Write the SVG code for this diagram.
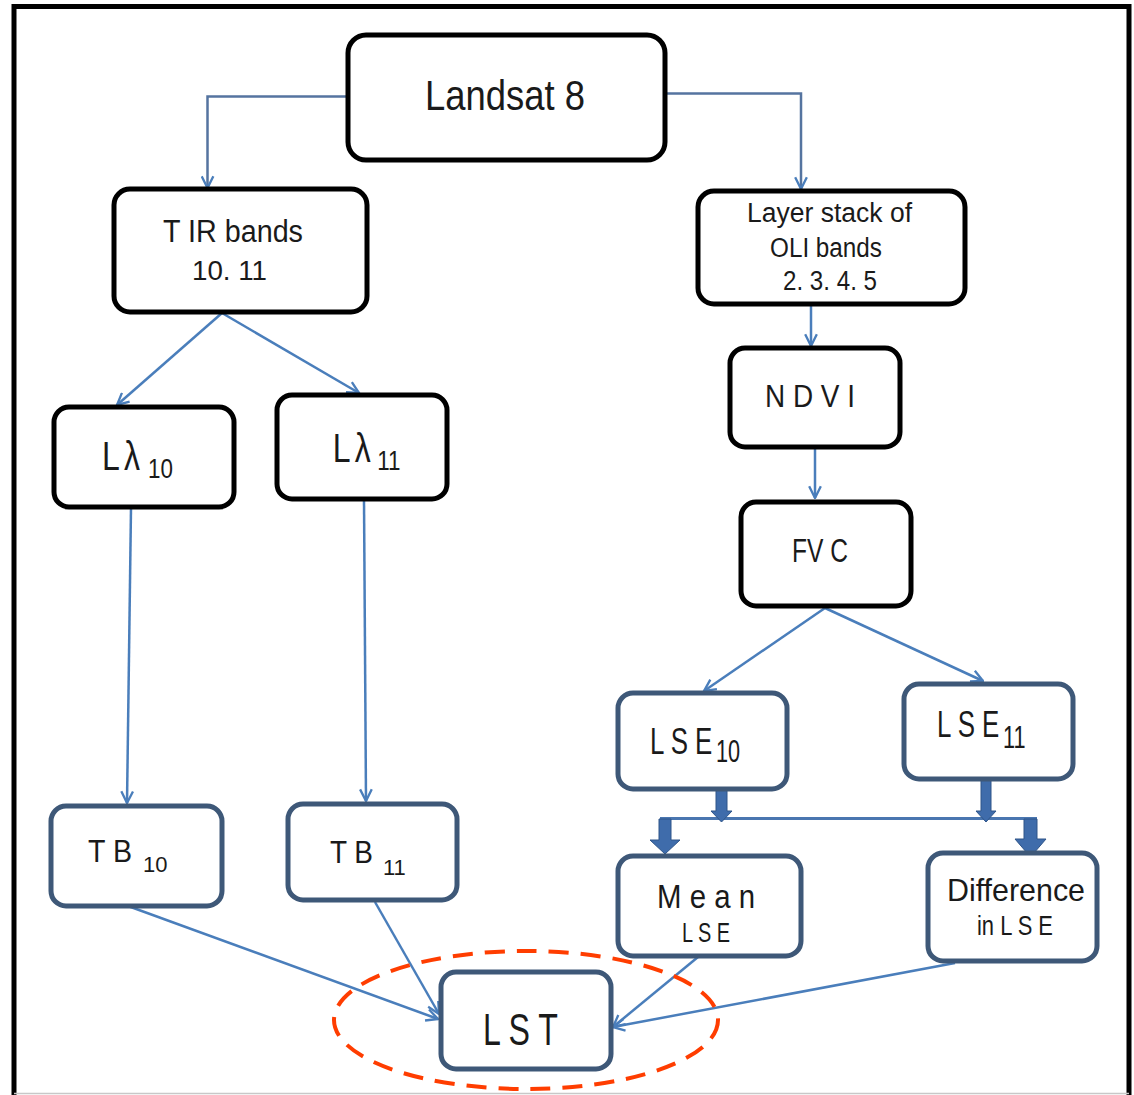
<svg xmlns="http://www.w3.org/2000/svg" width="1134" height="1095" viewBox="0 0 1134 1095">
<defs>
<style>
.nb{fill:#ffffff;stroke:#000000;stroke-width:5}
.ns{fill:#ffffff;stroke:#3e5878;stroke-width:5}
.t{font-family:"Liberation Sans Narrow","Liberation Sans",Arial,sans-serif;fill:#1a1a1a}
.c{fill:none;stroke:#4a7ebb;stroke-width:2.5}
.ba{fill:#3f6cab;stroke:#2f5589;stroke-width:1}
</style>
<marker id="ah" viewBox="0 0 12 12" refX="11" refY="6" markerWidth="14" markerHeight="14" markerUnits="userSpaceOnUse" orient="auto">
<path d="M1,1 L11,6 L1,11" fill="none" stroke="#4a7ebb" stroke-width="2"/>
</marker>
</defs>
<rect width="1134" height="1095" fill="#ffffff"/>
<path d="M14,1095 V6.5 H1129 V1095" fill="none" stroke="#000" stroke-width="5"/>
<line x1="14" y1="1093.5" x2="1129" y2="1093.5" stroke="#c8c8c8" stroke-width="1.5"/>

<g id="connectors">
<path class="c" d="M347,96.5 H207.5 V188" marker-end="url(#ah)" style="stroke:#5574a0;"/>
<path class="c" d="M665,93.5 H801 V189" marker-end="url(#ah)" style="stroke:#5574a0;"/>
<line class="c" x1="222" y1="313" x2="117" y2="405" marker-end="url(#ah)"/>
<line class="c" x1="222" y1="313" x2="359" y2="393" marker-end="url(#ah)"/>
<line class="c" x1="811" y1="305" x2="811" y2="346" marker-end="url(#ah)"/>
<line class="c" x1="815" y1="449" x2="815" y2="498" marker-end="url(#ah)"/>
<line class="c" x1="825" y1="608" x2="704" y2="691" marker-end="url(#ah)"/>
<line class="c" x1="825" y1="608" x2="983" y2="681" marker-end="url(#ah)"/>
<line class="c" x1="131" y1="508" x2="127" y2="803" marker-end="url(#ah)"/>
<line class="c" x1="364" y1="500" x2="366" y2="801" marker-end="url(#ah)"/>
<line class="c" x1="128" y1="906" x2="438" y2="1019" marker-end="url(#ah)"/>
<line class="c" x1="375" y1="902" x2="439" y2="1014" marker-end="url(#ah)"/>
<line class="c" x1="698" y1="957" x2="613" y2="1027" marker-end="url(#ah)"/>
<line class="c" x1="955" y1="963" x2="613" y2="1027" marker-end="url(#ah)"/>
<line x1="660" y1="818.5" x2="1037" y2="818.5" stroke="#4a76b0" stroke-width="3"/>
<polygon class="ba" points="716,790 727,790 727,811 732,811 721.5,822 711,811 716,811"/>
<polygon class="ba" points="981,780 991,780 991,811 996,811 986,822 976,811 981,811"/>
<polygon class="ba" points="659,819 671,819 671,840 680,840 665,854 650,840 659,840"/>
<polygon class="ba" points="1024,819 1037,819 1037,839 1046,839 1030.5,857 1015,839 1024,839"/>
</g>

<g id="landsat8">
<rect class="nb" x="348" y="35" width="317" height="125" rx="18"/>
<text class="t" x="425" y="110" font-size="42" textLength="160" lengthAdjust="spacingAndGlyphs">Landsat 8</text>
</g>
<g id="tir">
<rect class="nb" x="114" y="189" width="253" height="123" rx="16"/>
<text class="t" x="163" y="242" font-size="31" textLength="140" lengthAdjust="spacingAndGlyphs">T  IR bands</text>
<text class="t" x="192" y="280" font-size="27" textLength="75" lengthAdjust="spacingAndGlyphs">10. 11</text>
</g>
<g id="layerstack">
<rect class="nb" x="698" y="191" width="267" height="113" rx="16"/>
<text class="t" x="747" y="222" font-size="27" textLength="165" lengthAdjust="spacingAndGlyphs">Layer  stack of</text>
<text class="t" x="770" y="257" font-size="27" textLength="112" lengthAdjust="spacingAndGlyphs">OLI bands</text>
<text class="t" x="783" y="290" font-size="27" textLength="94" lengthAdjust="spacingAndGlyphs">2. 3. 4. 5</text>
</g>
<g id="ndvi">
<rect class="nb" x="730" y="348" width="170" height="99" rx="15"/>
<text class="t" x="765" y="407" font-size="32" textLength="90" lengthAdjust="spacingAndGlyphs">N D V I</text>
</g>
<g id="fvc">
<rect class="nb" x="741" y="502" width="170" height="104" rx="15"/>
<text class="t" x="792" y="562" font-size="34" textLength="56" lengthAdjust="spacingAndGlyphs">FV C</text>
</g>
<g id="llambda10">
<rect class="nb" x="54" y="407" width="180" height="100" rx="15"/>
<text class="t" transform="scale(0.8 1)" y="470" font-size="40"><tspan x="127.5">L</tspan><tspan x="155">λ</tspan><tspan x="185" y="478" font-size="28">10</tspan></text>
</g>
<g id="llambda11">
<rect class="nb" x="277" y="395" width="170" height="104" rx="15"/>
<text class="t" transform="scale(0.8 1)" y="462" font-size="40"><tspan x="416">L</tspan><tspan x="443.5">λ</tspan><tspan x="471.5" y="470" font-size="28">11</tspan></text>
</g>
<g id="tb10">
<rect class="ns" x="51" y="806" width="171" height="100" rx="15"/>
<text class="t" x="88" y="862" font-size="31" textLength="44" lengthAdjust="spacingAndGlyphs">T B</text>
<text class="t" x="143" y="872" font-size="22">10</text>
</g>
<g id="tb11">
<rect class="ns" x="288" y="804" width="169" height="96" rx="15"/>
<text class="t" x="330" y="863" font-size="31" textLength="43" lengthAdjust="spacingAndGlyphs">T B</text>
<text class="t" x="383" y="875" font-size="22">11</text>
</g>
<g id="lse10">
<rect class="ns" x="618" y="693" width="169" height="96" rx="15"/>
<text class="t" transform="scale(0.7 1)" y="754" font-size="37"><tspan x="928.6">L S E</tspan><tspan x="1022.9" y="762" font-size="31">10</tspan></text>
</g>
<g id="lse11">
<rect class="ns" x="904" y="684" width="169" height="95" rx="15"/>
<text class="t" transform="scale(0.7 1)" y="737" font-size="37"><tspan x="1338.6">L S E</tspan><tspan x="1432.9" y="748" font-size="31">11</tspan></text>
</g>
<g id="meanlse">
<rect class="ns" x="618" y="856" width="183" height="100" rx="15"/>
<text class="t" x="657" y="908" font-size="33" textLength="98" lengthAdjust="spacingAndGlyphs">M e a n</text>
<text class="t" x="682" y="942" font-size="27" textLength="48" lengthAdjust="spacingAndGlyphs">L S E</text>
</g>
<g id="difflse">
<rect class="ns" x="928" y="853" width="169" height="108" rx="15"/>
<text class="t" x="947" y="901" font-size="32" textLength="138" lengthAdjust="spacingAndGlyphs">Difference</text>
<text class="t" x="977" y="935" font-size="27" textLength="76" lengthAdjust="spacingAndGlyphs">in L S E</text>
</g>
<g id="lst">
<rect class="ns" x="441" y="972" width="170" height="97" rx="15"/>
<text class="t" x="483" y="1045" font-size="44" textLength="75" lengthAdjust="spacingAndGlyphs">L S T</text>
</g>
<ellipse id="highlight" cx="526" cy="1020" rx="192" ry="69" fill="none" stroke="#ff3d00" stroke-width="4" stroke-dasharray="20 12"/>
</svg>
